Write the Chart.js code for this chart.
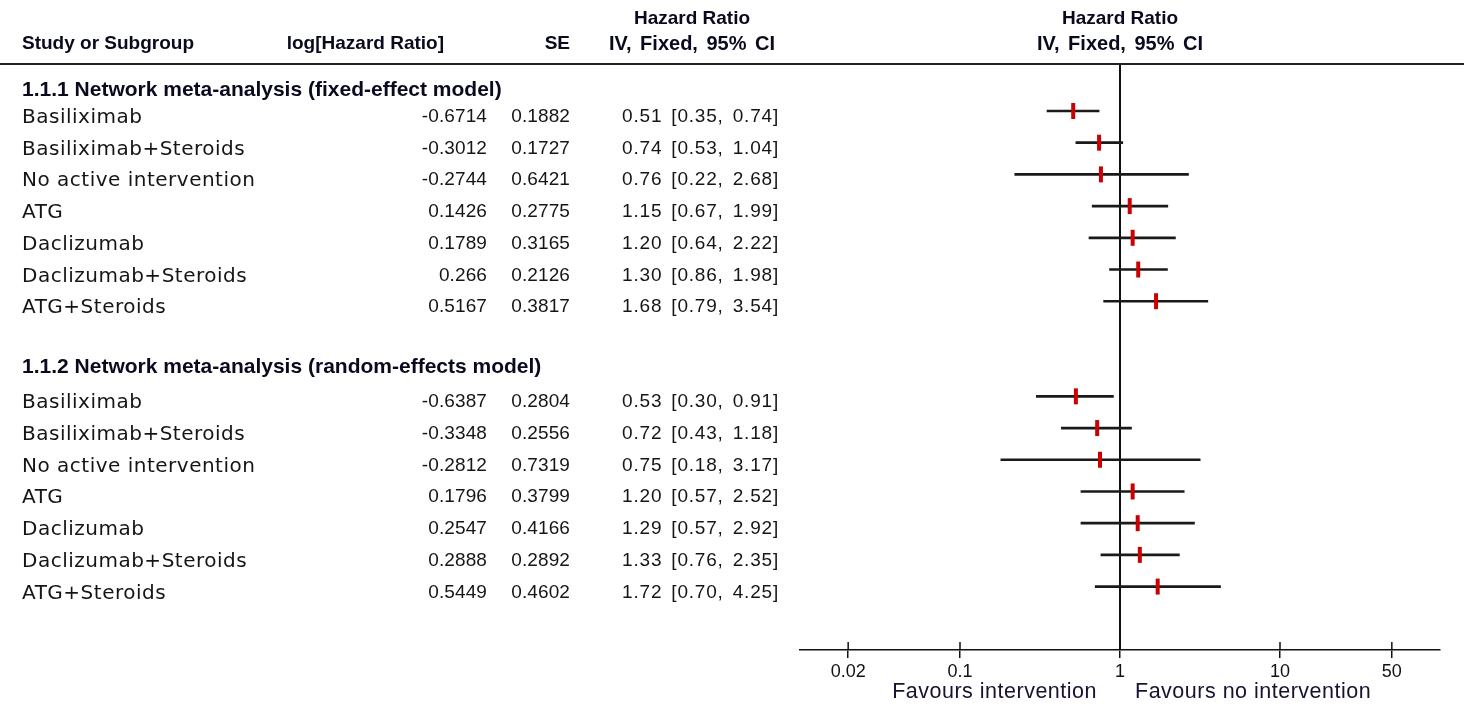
<!doctype html>
<html lang="en">

<head>
  <meta charset="utf-8">
  <title>Forest plot - Hazard Ratio</title>
  <script src="https://cdn.jsdelivr.net/npm/chart.js"></script>
  <style>
    html, body { margin: 0; padding: 0; background: #fff; }
    #wrap { position: relative; width: 1464px; height: 713px; overflow: hidden; }
    #plot { position: absolute; left: 0; top: 0; }
    .t { position: absolute; white-space: nowrap; line-height: 1; color: #151515; }
    .name { font: 20px "DejaVu Sans", sans-serif; letter-spacing: 0.5px; }
    .num { font: 19px "Liberation Sans", Arial, sans-serif; letter-spacing: 0.1px; }
    .ci { letter-spacing: 0.8px; word-spacing: 3px; }
    .head { font: bold 19px "Liberation Sans", Arial, sans-serif; color: #0a0a1e; }
    .iv { font-size: 20px; word-spacing: 3px; }
    .group { font-size: 21px; }
    .fav { font: 21.5px "Liberation Sans", Arial, sans-serif; color: #1a1030; letter-spacing: 0.5px; }
    .rule { position: absolute; left: 0; top: 63px; width: 1464px; height: 2px; background: #222; }
  </style>
</head>

<body>
  <div id="wrap">
    <canvas id="plot" width="1464" height="713"></canvas>
    <div class="rule"></div>
  </div>

  <script>
    // === DATA ===
    const studies = ["Basiliximab", "Basiliximab+Steroids", "No active intervention", "ATG",
      "Daclizumab", "Daclizumab+Steroids", "ATG+Steroids"];
    const groupTitles = ["1.1.1 Network meta-analysis (fixed-effect model)",
      "1.1.2 Network meta-analysis (random-effects model)"];

    // fixed-effect model
    const fixedLog = ["-0.6714", "-0.3012", "-0.2744", "0.1426", "0.1789", "0.266", "0.5167"];
    const fixedSE = ["0.1882", "0.1727", "0.6421", "0.2775", "0.3165", "0.2126", "0.3817"];
    const fixedHR = [0.51, 0.74, 0.76, 1.15, 1.20, 1.30, 1.68];
    const fixedLo = [0.35, 0.53, 0.22, 0.67, 0.64, 0.86, 0.79];
    const fixedHi = [0.74, 1.04, 2.68, 1.99, 2.22, 1.98, 3.54];

    // random-effects model
    const randomLog = ["-0.6387", "-0.3348", "-0.2812", "0.1796", "0.2547", "0.2888", "0.5449"];
    const randomSE = ["0.2804", "0.2556", "0.7319", "0.3799", "0.4166", "0.2892", "0.4602"];
    const randomHR = [0.53, 0.72, 0.75, 1.20, 1.29, 1.33, 1.72];
    const randomLo = [0.30, 0.43, 0.18, 0.57, 0.57, 0.76, 0.70];
    const randomHi = [0.91, 1.18, 3.17, 2.52, 2.92, 2.35, 4.25];

    const xTicks = [0.02, 0.1, 1, 10, 50];

    // === ROW LAYOUT (row index on the y scale) ===
    const fixedRow = i => i;        // rows 0..6
    const randomRow = i => i + 9;   // rows 9..15, header of group 2 sits on row 8

    const fmt = v => v.toFixed(2);
    const ciText = (hr, lo, hi) => fmt(hr) + " [" + fmt(lo) + ", " + fmt(hi) + "]";

    // build chart datasets
    const whiskers = [];
    const points = [];
    studies.forEach((s, i) => {
      whiskers.push({ y: fixedRow(i), x: [fixedLo[i], fixedHi[i]] });
      points.push({ x: fixedHR[i], y: fixedRow(i) });
    });
    studies.forEach((s, i) => {
      whiskers.push({ y: randomRow(i), x: [randomLo[i], randomHi[i]] });
      points.push({ x: randomHR[i], y: randomRow(i) });
    });

    // line of no effect + upper half of the axis ticks
    const refLine = {
      id: "refLine",
      beforeDatasetsDraw(chart) {
        const { ctx, chartArea, scales } = chart;
        const x1 = scales.x.getPixelForValue(1);
        ctx.save();
        ctx.strokeStyle = "#111";
        ctx.lineWidth = 2;
        ctx.beginPath();
        ctx.moveTo(x1, chartArea.top);
        ctx.lineTo(x1, chartArea.bottom);
        ctx.stroke();
        ctx.lineWidth = 1.5;
        xTicks.forEach(v => {
          const px = scales.x.getPixelForValue(v);
          ctx.beginPath();
          ctx.moveTo(px, chartArea.bottom - 8);
          ctx.lineTo(px, chartArea.bottom);
          ctx.stroke();
        });
        ctx.restore();
      }
    };

    const chart = new Chart(document.getElementById("plot"), {
      data: {
        datasets: [
          {
            type: "bar",
            data: whiskers,
            backgroundColor: "#1a1a1a",
            borderWidth: 0,
            barThickness: 2,
            order: 2
          },
          {
            type: "scatter",
            data: points,
            pointStyle: "line",
            rotation: 90,
            pointRadius: 8,
            pointBorderWidth: 4,
            pointBorderColor: "#cc0000",
            pointBackgroundColor: "#cc0000",
            order: 1
          }
        ]
      },
      options: {
        responsive: false,
        animation: false,
        indexAxis: "y",
        layout: { padding: { left: 800, right: 24, top: 65, bottom: 0 } },
        plugins: { legend: { display: false }, tooltip: { enabled: false } },
        scales: {
          x: {
            type: "logarithmic",
            position: "bottom",
            min: 0.01,
            max: 100,
            afterBuildTicks: axis => { axis.ticks = xTicks.map(v => ({ value: v })); },
            afterFit: axis => { axis.height = 63; },
            ticks: {
              autoSkip: false,
              maxRotation: 0,
              padding: 3,
              color: "#111",
              font: { family: "Liberation Sans", size: 18 },
              callback: v => String(v)
            },
            grid: { drawOnChartArea: false, drawTicks: true, tickLength: 8, color: "#111", lineWidth: 1.5 },
            border: { display: true, color: "#111", width: 1.5 }
          },
          y: {
            type: "linear",
            display: false,
            reverse: true,
            offset: false,
            min: -1.45,
            max: 17
          }
        }
      },
      plugins: [refLine]
    });

    // === TABLE TEXT (positioned from the chart's y scale) ===
    const wrap = document.getElementById("wrap");
    function label(text, x, y, align, cls) {
      const d = document.createElement("div");
      d.className = "t " + cls;
      d.textContent = text;
      d.style.left = x + "px";
      d.style.top = y + "px";
      const tx = align === "right" ? "-100%" : align === "center" ? "-50%" : "0";
      d.style.transform = "translate(" + tx + ", -50%)";
      wrap.appendChild(d);
    }

    const yPix = r => chart.scales.y.getPixelForValue(r) + 5;
    const x1 = chart.scales.x.getPixelForValue(1);

    // column headers
    label("Hazard Ratio", 692, 18, "center", "head");
    label("Study or Subgroup", 22, 43, "left", "head");
    label("log[Hazard Ratio]", 444, 43, "right", "head");
    label("SE", 570, 43, "right", "head");
    label("IV, Fixed, 95% CI", 692, 43, "center", "head iv");
    label("Hazard Ratio", x1, 18, "center", "head");
    label("IV, Fixed, 95% CI", x1, 43, "center", "head iv");

    // group 1
    label(groupTitles[0], 22, yPix(-0.85), "left", "head group");
    studies.forEach((s, i) => {
      const y = yPix(fixedRow(i));
      label(s, 22, y, "left", "name");
      label(fixedLog[i], 487, y, "right", "num");
      label(fixedSE[i], 570, y, "right", "num");
      label(ciText(fixedHR[i], fixedLo[i], fixedHi[i]), 779, y, "right", "num ci");
    });

    // group 2
    label(groupTitles[1], 22, yPix(7.9), "left", "head group");
    studies.forEach((s, i) => {
      const y = yPix(randomRow(i));
      label(s, 22, y, "left", "name");
      label(randomLog[i], 487, y, "right", "num");
      label(randomSE[i], 570, y, "right", "num");
      label(ciText(randomHR[i], randomLo[i], randomHi[i]), 779, y, "right", "num ci");
    });

    // favours labels under the axis
    label("Favours intervention", x1 - 23, 691, "right", "fav");
    label("Favours no intervention", x1 + 15, 691, "left", "fav");
  </script>
</body>

</html>
